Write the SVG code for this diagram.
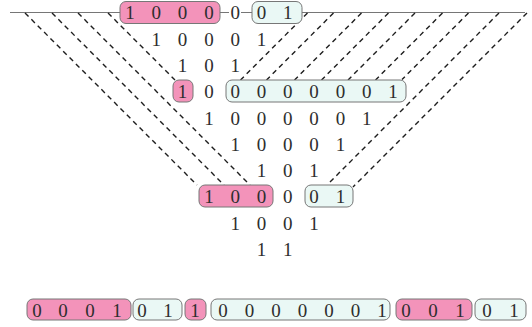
<svg xmlns="http://www.w3.org/2000/svg" width="532" height="327" viewBox="0 0 532 327">
<style>
.d{font-family:"Liberation Serif","DejaVu Serif",serif;font-size:19px;fill:#2e2e2e;text-anchor:middle}
.pk{fill:#f393ba;stroke:#777;stroke-width:1}
.tl{fill:#eaf8f5;stroke:#777;stroke-width:1}
.hl{stroke:#666;stroke-width:0.9;fill:none}
.dl{stroke:#1e1e1e;stroke-width:1.4;stroke-dasharray:5 4;fill:none}
</style>
<rect width="532" height="327" fill="#fff"/>
<g id="connectors">
<line class="hl" x1="10" y1="12.5" x2="120" y2="12.5"/>
<line class="hl" x1="220" y1="12.5" x2="229" y2="12.5"/>
<line class="hl" x1="241" y1="12.5" x2="252" y2="12.5"/>
<line class="hl" x1="302" y1="12.5" x2="525" y2="12.5"/>
<line class="dl" x1="25" y1="13" x2="197" y2="185"/>
<line class="dl" x1="52" y1="13" x2="224" y2="185"/>
<line class="dl" x1="78" y1="13" x2="250" y2="185"/>
<line class="dl" x1="108" y1="13" x2="175" y2="80"/>
<line class="dl" x1="307.5" y1="13" x2="240.5" y2="80"/>
<line class="dl" x1="333.5" y1="13" x2="266.5" y2="80"/>
<line class="dl" x1="361.5" y1="13" x2="294.5" y2="80"/>
<line class="dl" x1="388.5" y1="13" x2="321.5" y2="80"/>
<line class="dl" x1="415" y1="13" x2="348" y2="80"/>
<line class="dl" x1="442.5" y1="13" x2="375.5" y2="80"/>
<line class="dl" x1="468.5" y1="13" x2="402" y2="79.5"/>
<line class="dl" x1="499" y1="13" x2="330" y2="182"/>
<line class="dl" x1="527" y1="13" x2="353" y2="187"/>
</g>
<g id="row1">
<rect class="pk" x="120" y="1.5" width="100" height="22" rx="6"/>
<rect class="tl" x="252" y="1.5" width="50" height="22" rx="6"/>
<text class="d" x="130 156.3 182.6 208.9 235.2 261.5 287.8" y="19">1000001</text>
</g>
<g id="row2"><text class="d" x="156.3 182.6 208.9 235.2 261.5" y="45.5">10001</text></g>
<g id="row3"><text class="d" x="182.6 208.9 235.2" y="71.5">101</text></g>
<g id="row4">
<rect class="pk" x="173" y="80" width="20" height="22" rx="6"/>
<rect class="tl" x="226" y="80" width="180" height="22" rx="6"/>
<text class="d" x="182.6 208.9 235.2 261.5 287.8 314.1 340.4 366.7 393" y="97.5">100000001</text>
</g>
<g id="row5"><text class="d" x="208.9 235.2 261.5 287.8 314.1 340.4 366.7" y="124.5">1000001</text></g>
<g id="row6"><text class="d" x="235.2 261.5 287.8 314.1 340.4" y="150.5">10001</text></g>
<g id="row7"><text class="d" x="261.5 287.8 314.1" y="176.5">101</text></g>
<g id="row8">
<rect class="pk" x="199" y="185" width="74" height="22" rx="6"/>
<rect class="tl" x="305" y="185" width="48" height="22" rx="6"/>
<text class="d" x="208.9 235.2 261.5 287.8 314.1 340.4" y="202.5">100001</text>
</g>
<g id="row9"><text class="d" x="235.2 261.5 287.8 314.1" y="229.5">1001</text></g>
<g id="row10"><text class="d" x="261.5 287.8" y="255.5">11</text></g>
<g id="result">
<rect class="pk" x="27" y="299" width="104" height="21" rx="6"/>
<rect class="tl" x="133" y="299" width="49" height="21" rx="6"/>
<rect class="pk" x="185" y="299" width="21" height="21" rx="6"/>
<rect class="tl" x="211" y="299" width="179" height="21" rx="6"/>
<rect class="pk" x="396" y="299" width="76" height="21" rx="6"/>
<rect class="tl" x="475" y="299" width="51" height="21" rx="6"/>
<text class="d" x="37 63 90 117 142 168 195 223 249.5 276 302.5 329 355.5 382 406 433 460 487 514" y="316.5">0001011000000100101</text>
</g>
</svg>
